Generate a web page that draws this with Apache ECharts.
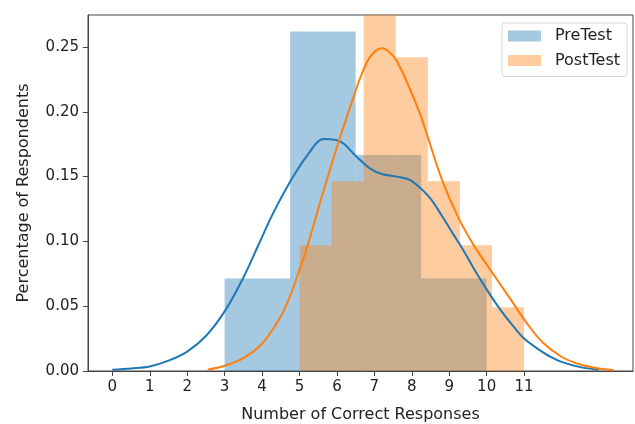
<!DOCTYPE html>
<html>
<head>
<meta charset="utf-8">
<script src="https://cdn.jsdelivr.net/npm/echarts@6/dist/echarts.min.js"></script>
<style>
html,body{margin:0;padding:0;background:#fff;}
#chart{width:635px;height:424px;}
</style>
</head>
<body>
<div id="chart"></div>
<script>
// Histogram bin edges and densities
const preEdges = [3, 4.75, 6.5, 8.25, 10];
const preDensity = [0.0714, 0.2619, 0.1667, 0.0714];
const postEdges = [5, 5.857, 6.714, 7.571, 8.429, 9.286, 10.143, 11];
const postDensity = [0.0971, 0.1464, 0.3889, 0.2421, 0.1464, 0.0971, 0.0491];

// KDE curves
const preKdeX = [0, 0.5, 1, 1.5, 2, 2.5, 3, 3.5, 3.9, 4.3, 4.75, 5.2, 5.65, 6.1, 6.5, 6.9, 7.2, 7.6, 7.9, 8.2, 8.5, 8.8, 9.1, 9.4, 9.7, 10.0, 10.35, 10.7, 11.0, 11.35, 11.7, 12.0, 12.5, 13.0];
const preKdeY = [0.001, 0.002, 0.0035, 0.008, 0.015, 0.027, 0.046, 0.072, 0.097, 0.122, 0.146, 0.166, 0.179, 0.177, 0.166, 0.156, 0.152, 0.150, 0.148, 0.142, 0.133, 0.120, 0.106, 0.092, 0.077, 0.063, 0.048, 0.035, 0.025, 0.0175, 0.011, 0.007, 0.003, 0.001];
const postKdeX = [2.55, 3.0, 3.5, 4.0, 4.5, 4.75, 5.0, 5.25, 5.55, 5.8, 6.08, 6.44, 6.62, 6.88, 7.2, 7.51, 7.69, 7.87, 8.2, 8.4, 8.8, 9.25, 9.7, 10.1, 10.6, 11.07, 11.5, 12.0, 12.5, 13.0, 13.4];
const postKdeY = [0.001, 0.004, 0.010, 0.021, 0.042, 0.058, 0.078, 0.100, 0.130, 0.154, 0.180, 0.211, 0.226, 0.242, 0.249, 0.243, 0.234, 0.223, 0.200, 0.183, 0.148, 0.118, 0.095, 0.078, 0.057, 0.037, 0.022, 0.011, 0.005, 0.002, 0.0008];

const xTicks = [0, 1, 2, 3, 4, 5, 6, 7, 8, 9, 10, 11];
const yTicks = [0, 0.05, 0.10, 0.15, 0.20, 0.25];

const seriesNames = ['PreTest', 'PostTest'];
const FONT = 'DejaVu Sans';

function binsData(edges, dens) {
  return dens.map((d, i) => [edges[i], edges[i + 1], d]);
}
function zip(xs, ys) { return xs.map((x, i) => [x, ys[i]]); }

function renderBin(params, api) {
  const x0 = api.value(0), x1 = api.value(1), h = api.value(2);
  const p0 = api.coord([x0, h]);
  const p1 = api.coord([x1, 0]);
  const shape = echarts.graphic.clipRectByRect(
    { x: p0[0], y: p0[1], width: p1[0] - p0[0], height: p1[1] - p0[1] },
    { x: params.coordSys.x, y: params.coordSys.y, width: params.coordSys.width, height: params.coordSys.height }
  );
  return shape && { type: 'rect', shape: shape, style: { fill: api.visual('color') } };
}

const chart = echarts.init(document.getElementById('chart'));
chart.setOption({
  animation: false,
  grid: { left: 88, right: 2, top: 15, bottom: 53, outerBoundsMode: 'none', containLabel: false, show: true, borderColor: '#444', borderWidth: 1, backgroundColor: 'transparent' },
  legend: {
    left: 502, top: 23, orient: 'vertical',
    data: [{ name: seriesNames[0], icon: 'rect' }, { name: seriesNames[1], icon: 'rect' }],
    itemWidth: 33, itemHeight: 11, itemGap: 8.5,
    padding: [5, 7, 8, 6],
    borderColor: '#d6d6d6', borderWidth: 1, borderRadius: 3, backgroundColor: 'rgba(255,255,255,0.8)',
    textStyle: { fontFamily: FONT, fontSize: 16, color: '#222', lineHeight: 16, padding: [0, 0, 0, 9] }
  },
  xAxis: {
    type: 'value', min: -0.65, max: 13.91,
    name: 'Number of Correct Responses', nameLocation: 'middle', nameGap: 36,
    nameTextStyle: { fontFamily: FONT, fontSize: 16, color: '#222' },
    axisLine: { show: true, onZero: false, lineStyle: { color: '#444', width: 1 } },
    axisTick: { show: true, length: 5, customValues: xTicks, lineStyle: { color: '#444' } },
    axisLabel: { customValues: xTicks, fontFamily: FONT, fontSize: 15, color: '#222', margin: 9 },
    splitLine: { show: false }
  },
  yAxis: {
    type: 'value', min: 0, max: 0.2747,
    name: 'Percentage of Respondents', nameLocation: 'middle', nameGap: 56,
    nameTextStyle: { fontFamily: FONT, fontSize: 16, color: '#222' },
    axisLine: { show: true, onZero: false, lineStyle: { color: '#444', width: 1 } },
    axisTick: { show: true, length: 5, customValues: yTicks, lineStyle: { color: '#444' } },
    axisLabel: { customValues: yTicks, fontFamily: FONT, fontSize: 15, color: '#222', margin: 9, formatter: v => v.toFixed(2) },
    splitLine: { show: false }
  },
  series: [
    { name: seriesNames[0], type: 'custom', renderItem: renderBin, itemStyle: { color: 'rgba(31,119,180,0.4)' }, encode: { x: [0, 1], y: 2 }, data: binsData(preEdges, preDensity), z: 1 },
    { name: seriesNames[1], type: 'custom', renderItem: renderBin, itemStyle: { color: 'rgba(255,127,14,0.4)' }, encode: { x: [0, 1], y: 2 }, data: binsData(postEdges, postDensity), z: 1 },
    { name: seriesNames[0] + ' KDE', type: 'line', smooth: 0.35, showSymbol: false, lineStyle: { color: '#1f77b4', width: 2 }, itemStyle: { color: '#1f77b4' }, data: zip(preKdeX, preKdeY), z: 3 },
    { name: seriesNames[1] + ' KDE', type: 'line', smooth: 0.35, showSymbol: false, lineStyle: { color: '#ff7f0e', width: 2 }, itemStyle: { color: '#ff7f0e' }, data: zip(postKdeX, postKdeY), z: 3 }
  ]
});
</script>
</body>
</html>
